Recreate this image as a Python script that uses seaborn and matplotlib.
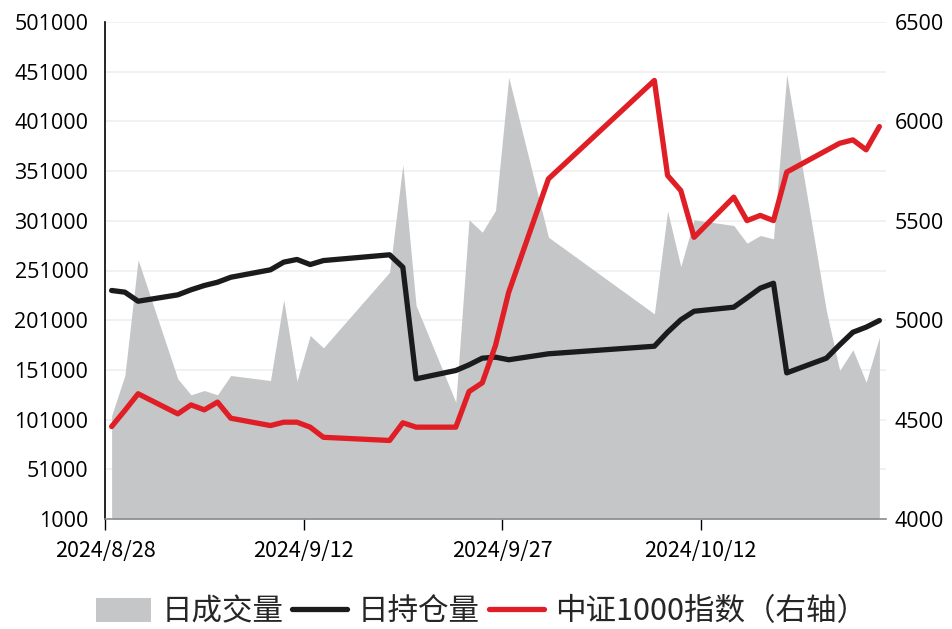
import numpy as np
import pandas as pd
import matplotlib
matplotlib.use("Agg")
import matplotlib.pyplot as plt
from matplotlib.patches import Patch
from matplotlib.lines import Line2D
import seaborn as sns

# =========================
# Data
# =========================
dates = [
    "2024-08-28", "2024-08-29", "2024-08-30",
    "2024-09-02", "2024-09-03", "2024-09-04", "2024-09-05", "2024-09-06",
    "2024-09-09", "2024-09-10", "2024-09-11", "2024-09-12", "2024-09-13",
    "2024-09-18", "2024-09-19", "2024-09-20",
    "2024-09-23", "2024-09-24", "2024-09-25", "2024-09-26", "2024-09-27",
    "2024-09-30",
    "2024-10-08", "2024-10-09", "2024-10-10", "2024-10-11",
    "2024-10-14", "2024-10-15", "2024-10-16", "2024-10-17", "2024-10-18",
    "2024-10-21", "2024-10-22", "2024-10-23", "2024-10-24", "2024-10-25",
]

volume = [
    105000, 145400, 261800,
    142000, 125900, 130300, 125900, 145400,
    140300, 221500, 139600, 185600, 173200,
    249300, 357600, 215800,
    118500, 302000, 289500, 311400, 445400,
    284500,
    207400, 310700, 255000, 302000,
    296300, 278500, 286200, 282900, 448100,
    210000, 150400, 171200, 138600, 183900,
]

open_interest = [
    230900, 229200, 220100,
    226500, 231600, 235900, 239200, 244200,
    251700, 259400, 262100, 257000, 261000,
    266800, 254300, 142000,
    150400, 156100, 162800, 163800, 161200,
    167200,
    174800, 188900, 201400, 210000,
    214100, 223500, 233200, 238200, 148000,
    162800, 176200, 188900, 194000, 200700,
]

csi1000 = [
    4465, 4546, 4630,
    4529, 4574, 4549, 4588, 4507,
    4470, 4487, 4487, 4462, 4411,
    4395, 4484, 4462,
    4462, 4641, 4685, 4873, 5141,
    5711,
    6206, 5728, 5652, 5417,
    5619, 5501, 5527, 5501, 5745,
    5854, 5890, 5907, 5857, 5974,
]

tick_dates = ["2024-08-28", "2024-09-12", "2024-09-27", "2024-10-12"]
tick_labels = ["2024/8/28", "2024/9/12", "2024/9/27", "2024/10/12"]

left_ticks = np.arange(1000, 501001, 50000)
right_ticks = np.arange(4000, 6501, 500)

labels = ["日成交量", "日持仓量", "中证1000指数（右轴）"]

# =========================
# Setup
# =========================
sns.set_theme(style="white")
plt.rcParams["font.family"] = ["Noto Sans CJK SC", "DejaVu Sans"]
NUM_FONT = ["Open Sans", "DejaVu Sans"]

GREY = "#c5c6c8"
BLACK = "#1b1a1c"
RED = "#e01e25"
LW = 3.8

df = pd.DataFrame({
    "date": pd.to_datetime(dates) + pd.Timedelta(hours=12),
    "volume": volume,
    "oi": open_interest,
    "index": csi1000,
})

fig = plt.figure(figsize=(9.53, 6.29), dpi=100)
ax = fig.add_axes([105 / 953, 110 / 629, 781 / 953, 497 / 629])
ax2 = ax.twinx()

ax.fill_between(df["date"], 1000, df["volume"], color=GREY, linewidth=0, zorder=1)
sns.lineplot(data=df, x="date", y="oi", ax=ax, color=BLACK, linewidth=LW, zorder=3)
sns.lineplot(data=df, x="date", y="index", ax=ax2, color=RED, linewidth=LW, zorder=3)

# axes ranges
ax.set_xlim(pd.Timestamp("2024-08-28"), pd.Timestamp("2024-10-26"))
ax.set_ylim(1000, 501000)
ax2.set_ylim(4000, 6500)

ax.set_yticks(left_ticks)
ax.set_yticklabels([str(v) for v in left_ticks], family=NUM_FONT, fontsize=15.5)
ax2.set_yticks(right_ticks)
ax2.set_yticklabels([str(v) for v in right_ticks], family=NUM_FONT, fontsize=15.5)
ax.set_xticks(pd.to_datetime(tick_dates))
ax.set_xticklabels(tick_labels, fontsize=15.5)

ax.set_xlabel("")
ax.set_ylabel("")
ax2.set_xlabel("")
ax2.set_ylabel("")

ax.grid(axis="y", color="#efefef", linewidth=1.2)
ax.set_axisbelow(True)
ax2.grid(False)

for a in (ax, ax2):
    for s in ("top", "right"):
        a.spines[s].set_visible(False)
ax2.spines["left"].set_visible(False)
ax2.spines["bottom"].set_visible(False)
ax.spines["left"].set_color("black")
ax.spines["left"].set_linewidth(1.2)
ax.spines["bottom"].set_color("#8c8c8c")
ax.spines["bottom"].set_linewidth(1.2)

ax.tick_params(axis="y", length=0, pad=12, labelcolor="black")
ax2.tick_params(axis="y", length=0, pad=6, labelcolor="black")
ax.tick_params(axis="x", bottom=True, length=8, width=1, color="black",
               pad=7, labelcolor="black")

# legend
handles = [
    Patch(facecolor=GREY, edgecolor="none"),
    Line2D([0], [0], color=BLACK, linewidth=LW),
    Line2D([0], [0], color=RED, linewidth=LW),
]
fig.legend(handles, labels, loc="center", bbox_to_anchor=(0.505, 17 / 629),
           ncol=3, frameon=False, fontsize=22, handlelength=1.8,
           handleheight=0.8, handletextpad=0.35, columnspacing=0.3)

fig.savefig("out.png", dpi=100)
